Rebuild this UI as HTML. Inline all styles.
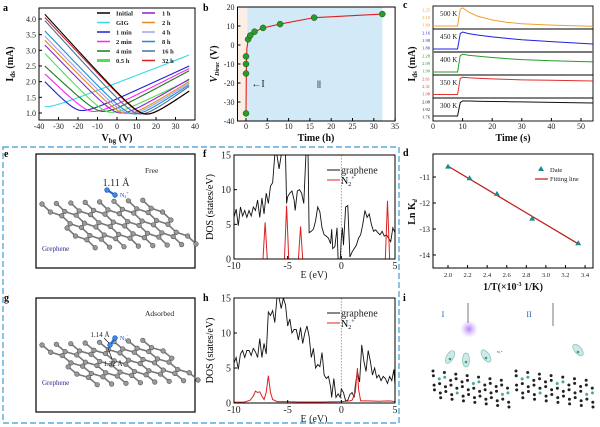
<!DOCTYPE html>
<html><head><meta charset="utf-8">
<style>
html,body{margin:0;padding:0;background:#fff;width:600px;height:427px;overflow:hidden}
svg{display:block;font-family:"Liberation Serif",serif}
.tk{font-size:8px;fill:#222}
.lb{font-size:10px;font-weight:bold;fill:#111}
.pl{font-size:10px;font-weight:bold;fill:#000}
</style></head><body>
<svg id="fig" width="600" height="427" viewBox="0 0 600 427" xmlns="http://www.w3.org/2000/svg">
<rect width="600" height="427" fill="#fff"/>
<rect x="3" y="147" width="396" height="276" fill="none" stroke="#3b9bd6" stroke-width="1.2" stroke-dasharray="6,3"/>
<g id="root"></g>
</svg>
<script>
// ---------- Panel a data ----------
const aLabels=["Initial","GIG","1 min","2 min","4 min","0.5 h","1 h","2 h","4 h","8 h","16 h","32 h"];
const aColors=["#000","#33dde0","#2020d0","#ff22ff","#1a7a1a","#55dd55","#9020d0","#e08a20","#a0a0ee","#1e90c8","#4a6fa0","#e02020"];
const aLeft=[4.15,1.2,2.0,2.25,2.5,2.9,3.17,3.32,3.45,3.62,3.95,4.05];
const aDirac=[15,-37,-18,-12,-7,-3,2,5,7,9,12,15];
const aMin=[0.97,1.2,1.08,1.05,1.05,1.02,1.0,0.98,0.98,0.97,0.97,0.96];
const aRight=[1.7,2.85,2.5,2.42,2.35,2.05,2.08,2.0,1.95,1.9,1.85,1.7];
const aXTicks=[-40,-30,-20,-10,0,10,20,30,40];
const aYTicks=[1.0,1.5,2.0,2.5,3.0,3.5,4.0];
// ---------- Panel b data ----------
const bTime=[0,0,0,0,0.5,1,2,4,8,16,32];
const bV=[-36,-15,-10,-6,3,5,7,9,11,14.4,16.3];
const bXTicks=[0,5,10,15,20,25,30,35];
const bYTicks=[-40,-30,-20,-10,0,10,20];
// ---------- Panel c data ----------
const cTemps=["500 K","450 K","400 K","350 K","300 K"];
const cColors=["#f0a030","#2020e0","#2a9a2a","#e03030","#111"];
const cTickLabels=[["2.25","2.10","1.80"],["2.16","1.98","1.80"],["2.28","2.09","1.90"],["2.61","2.31","1.98"],["2.08","1.92","1.76"]];
const cTime=[0,8.3,9.2,10,12,15,20,25,30,40,55];
const c500=[0.13,0.13,0.86,0.92,0.74,0.56,0.39,0.29,0.23,0.17,0.12];
const c450=[0.13,0.13,0.80,0.87,0.80,0.74,0.66,0.59,0.53,0.45,0.35];
const c400=[0.13,0.13,0.84,0.90,0.86,0.82,0.76,0.71,0.67,0.62,0.57];
const c350=[0.15,0.15,0.85,0.90,0.88,0.86,0.83,0.81,0.79,0.77,0.74];
const c300=[0.22,0.22,0.80,0.87,0.87,0.86,0.85,0.84,0.83,0.81,0.78];
const cXTicks=[0,10,20,30,40,50];
// ---------- Panel d data ----------
const dX=[2.0,2.22,2.5,2.86,3.33];
const dY=[-10.6,-11.05,-11.65,-12.6,-13.55];
const dFit=[[2.0,-10.58],[3.33,-13.57]];
const dXTicks=[2.0,2.2,2.4,2.6,2.8,3.0,3.2,3.4];
const dYTicks=[-11,-12,-13,-14];
// ---------- Panel f data ----------
const fE=[-10,-9.8,-9.6,-9.4,-9.2,-9,-8.8,-8.6,-8.4,-8.2,-8,-7.8,-7.6,-7.4,-7.2,-7,-6.8,-6.6,-6.4,-6.2,-6,-5.8,-5.6,-5.4,-5.2,-5.1,-5,-4.8,-4.6,-4.4,-4.3,-4.1,-3.9,-3.7,-3.5,-3.3,-3.1,-3,-2.8,-2.6,-2.4,-2.2,-2,-1.8,-1.6,-1.4,-1.2,-1,-0.9,-0.8,-0.6,-0.4,-0.3,-0.1,0,0.1,0.2,0.4,0.6,0.8,1,1.2,1.4,1.6,1.8,2,2.2,2.4,2.6,2.8,3,3.2,3.4,3.6,3.8,4,4.2,4.4,4.6,4.8,5];
const fG=[6,7.2,4.8,7.5,6.2,7,6,7,6.2,7.5,7,8.5,6,8.8,6.5,9.5,8,10.5,11,15,15,13,15,15,15,8,9,9.5,9.8,8.5,7,9.8,10,9.5,8,15,15,3.8,4,4.3,5.5,7.5,6.8,4.5,3.5,3.3,3,2.2,4.3,1.5,1.8,4.5,0,0,3,4.5,2,7.5,7.7,0.3,1,1.5,2,3,3.5,5,7,6,6.5,5,4,4.2,3.8,3.5,4,3.3,3.5,3,2.5,4.5,3.8];
const fNE=[-10,-7.3,-7.1,-6.9,-5.3,-5.1,-4.9,-4.0,-3.8,-3.6,4.1,4.3,4.5,5];
const fN=[0,0,5.3,0,0,7.7,0,0,4.7,0,0,8.4,0,0];
// ---------- Panel h data ----------
const hE=[-10,-9.8,-9.6,-9.4,-9.2,-9,-8.8,-8.6,-8.4,-8.2,-8,-7.8,-7.6,-7.4,-7.2,-7,-6.8,-6.6,-6.4,-6.2,-6,-5.8,-5.6,-5.4,-5.2,-5,-4.8,-4.6,-4.4,-4.2,-4,-3.8,-3.6,-3.4,-3.2,-3,-2.8,-2.6,-2.4,-2.2,-2,-1.8,-1.6,-1.4,-1.2,-1,-0.9,-0.7,-0.5,-0.3,-0.1,0,0.2,0.4,0.6,0.8,1,1.2,1.3,1.5,1.7,1.9,2.1,2.3,2.5,2.7,2.9,3.1,3.3,3.5,3.7,3.9,4.1,4.3,4.5,4.7,4.9,5];
const hG=[5.7,6.5,4.8,7,7.5,6.5,7.5,7.5,6.8,7.8,7.3,6.5,9.2,6.5,8.5,7,13,12.5,13.2,11.5,15,15,13.5,15,14,11,12,10,10.5,10.5,9,10.8,8.5,10,11,9.5,6.5,7.8,5,5.5,5.2,7.2,4,3.5,3.8,2.3,0.8,3.5,0.8,1.3,0.8,2,1.5,0.3,0.4,1.2,1.5,0.8,2.5,4.5,3,8.3,6,4.5,7.5,6,4,5,3.6,4,3.2,3.8,3.5,2.8,3.8,3.2,4.8,2.5];
const hNE=[-10,-9,-8.5,-8.2,-8,-7.8,-7.6,-7.4,-7.2,-7,-6.8,-6.6,-6.4,-6,-5,-4,-2,0,0.8,1,1.3,1.5,1.6,1.8,2.5,3.5,4.5,5];
const hN=[0.1,0.15,0.4,1,1.7,1.5,1.6,1,0.5,1.5,3.9,1.5,0.5,0.2,0.2,0.15,0.15,0.2,0.3,0.4,1.5,5,2,0.3,0.3,0.25,0.3,0.2];
const dosXTicks=[-10,-5,0,5];
const dosYTicks=[0,5,10,15];

const NS="http://www.w3.org/2000/svg";
const root=document.getElementById('root');
function mk(tag,attrs,parent,txt){const e=document.createElementNS(NS,tag);for(const k in attrs)e.setAttribute(k,attrs[k]);if(txt!==undefined)e.textContent=txt;(parent||root).appendChild(e);return e;}
function grp(name){const g=document.createElementNS(NS,'g');


root.appendChild(g);return g;}
function poly(pts){return pts.map((p,i)=>(i?'L':'M')+p[0].toFixed(2)+' '+p[1].toFixed(2)).join(' ');}
function txt(g,x,y,s,cls,anchor,extra){const t=mk('text',Object.assign({x:x,y:y,'class':cls||'tk','text-anchor':anchor||'middle'},extra||{}),g,s);return t;}

// panel letters
const letters=[["a",3,11],["b",203,11],["c",403,8],["e",4,157],["f",203,157],["d",403,156],["g",4,301],["h",203,301],["i",403,301]];
letters.forEach(l=>{const t=mk('text',{x:l[1],y:l[2],'class':'pl'},root,l[0]);

});

// ===== Panel a =====
(function(){
const g=grp('panel-a-transfer-curves');
const X=v=>39+(v+40)*156/80, Y=v=>113-(v-1)*31.33;
mk('rect',{x:39,y:8,width:156,height:112,fill:'none',stroke:'#000','stroke-width':1},g);
aXTicks.forEach(v=>{mk('line',{x1:X(v),x2:X(v),y1:120,y2:117,stroke:'#000'},g);txt(g,X(v),129,v);});
aYTicks.forEach(v=>{mk('line',{x1:39,x2:42,y1:Y(v),y2:Y(v),stroke:'#000'},g);txt(g,36,Y(v)+3,v.toFixed(1),'tk','end');});
const order=[1,2,3,4,5,6,7,8,9,10,11,0];
order.forEach(i=>{
 const c=6,L=aLeft[i],R=aRight[i],m=aMin[i],d=aDirac[i];
 const f=V=>Math.sqrt((V-d)*(V-d)+c*c)-c;
 const kL=d>-37?(L-m)/f(-37):0,kR=(R-m)/f(37);
 const pts=[];for(let V=-37;V<=37.01;V+=0.5){pts.push([X(V),Y(m+(V<d?kL:kR)*f(V))]);}
 const p=mk('path',{d:poly(pts),fill:'none',stroke:aColors[i],'stroke-width':1.1},g);
 
 
});
aLabels.forEach((s,i)=>{const col=i<6?0:1,row=i%6;const x0=col?142:97,y0=13+row*9.5;
 mk('line',{x1:x0,x2:x0+13,y1:y0,y2:y0,stroke:aColors[i],'stroke-width':i==5?3:1.5},g);
 const t=txt(g,x0+(col?20:19),y0+2.5,s,'tk','start',{style:'font-size:6.5px;font-weight:bold'});
 
 });
const yl=mk('text',{x:0,y:0,'class':'lb',transform:'translate(13,64) rotate(-90)','text-anchor':'middle'},g);
yl.innerHTML='I<tspan font-size="7" dy="2">ds</tspan><tspan dy="-2"> (mA)</tspan>';
const xl=mk('text',{x:117,y:141,'class':'lb','text-anchor':'middle'},g);
xl.innerHTML='V<tspan font-size="7" dy="2">bg</tspan><tspan dy="-2"> (V)</tspan>';
})();

// ===== Panel b =====
(function(){
const g=grp('panel-b-dirac-shift');
const X=t=>246+t*4.26, Y=v=>7+(20-v)*1.9;
mk('rect',{x:X(-2),y:7,width:X(0.3)-X(-2),height:114,fill:'#fbeee4'},g);
mk('rect',{x:X(0.3),y:7,width:X(32)-X(0.3),height:114,fill:'#d2eaf7'},g);
mk('rect',{x:X(-2),y:7,width:X(35)-X(-2),height:114,fill:'none',stroke:'#000'},g);
bXTicks.forEach(v=>{mk('line',{x1:X(v),x2:X(v),y1:121,y2:118,stroke:'#000'},g);txt(g,X(v),129,v);});
bYTicks.forEach(v=>{mk('line',{x1:X(-2),x2:X(-2)+3,y1:Y(v),y2:Y(v),stroke:'#000'},g);txt(g,X(-2)-3,Y(v)+3,v,'tk','end');});
const pts=[[X(0),Y(-36)],[X(0.1),Y(-10)],[X(0.2),Y(-2)]];
for(let i=4;i<bTime.length;i++)pts.push([X(bTime[i]),Y(bV[i])]);
mk('path',{d:poly(pts),fill:'none',stroke:'#e02020','stroke-width':1.1},g);
bTime.forEach((t,i)=>{const c=mk('circle',{cx:X(t),cy:Y(bV[i]),r:3,fill:'#2a9a2a',stroke:'#145014','stroke-width':0.5},g);
 
 });
txt(g,258,87,'←I','tk','middle',{style:'font-size:10px'});
txt(g,319,88,'Ⅱ','tk','middle',{style:'font-size:10px;fill:#555'});
const yl=mk('text',{x:0,y:0,'class':'lb',transform:'translate(217,64) rotate(-90)','text-anchor':'middle','font-style':'italic'},g);
yl.innerHTML='V<tspan font-size="6" dy="2">Dirac</tspan><tspan dy="-2" font-style="normal"> (V)</tspan>';
txt(g,316,141,'Time (h)','lb');
})();

// ===== Panel c =====
(function(){
const g=grp('panel-c-current-response');
const X=t=>433+t*2.96;
const series=[c500,c450,c400,c350,c300];
cTemps.forEach((s,k)=>{const top=6+k*23,bot=top+23;const Y=f=>bot-f*23;
 mk('rect',{x:433,y:top,width:160,height:23,fill:'none',stroke:'#000','stroke-width':0.9},g);
 cTickLabels[k].forEach((l,j)=>{const yy=top+4+j*7.5;txt(g,430,yy+1.5,l,'tk','end',{style:'font-size:4.5px;fill:'+cColors[k]});});
 const pts=[];
 for(let i=0;i<cTime.length;i++){const t=Math.min(cTime[i],54);pts.push([X(t),Y(series[k][i])]);}
 const p=mk('path',{d:poly(pts),fill:'none',stroke:cColors[k],'stroke-width':1},g);
 
 
 txt(g,440,top+10,s,'tk','start',{style:'font-size:7px'});
});
mk('line',{x1:433,x2:593,y1:52,y2:52,stroke:'#777','stroke-width':2},g);
cXTicks.forEach(v=>{mk('line',{x1:X(v),x2:X(v),y1:121,y2:118,stroke:'#000'},g);txt(g,X(v),129,v);});
const yl=mk('text',{x:0,y:0,'class':'lb',transform:'translate(415,64) rotate(-90)','text-anchor':'middle'},g);
yl.innerHTML='I<tspan font-size="7" dy="2">ds</tspan><tspan dy="-2"> (mA)</tspan>';
txt(g,513,141,'Time (s)','lb');
})();

// ===== Panel d =====
(function(){
const g=grp('panel-d-arrhenius');
const X=v=>448+(v-2)*97.9, Y=v=>177+(-11-v)*26;
mk('rect',{x:433,y:154,width:160,height:114,fill:'none',stroke:'#000'},g);
dXTicks.forEach(v=>{mk('line',{x1:X(v),x2:X(v),y1:268,y2:265,stroke:'#000'},g);txt(g,X(v),277,v.toFixed(1),'tk','middle',{style:'font-size:6.5px'});});
dYTicks.forEach(v=>{mk('line',{x1:433,x2:436,y1:Y(v),y2:Y(v),stroke:'#000'},g);txt(g,430,Y(v)+3,v,'tk','end');});
mk('path',{d:poly(dFit.map(p=>[X(p[0]),Y(p[1])])),stroke:'#c01818','stroke-width':1.2,fill:'none'},g);
dX.forEach((v,i)=>{const x=X(v),y=Y(dY[i]);const t=mk('path',{d:`M${x} ${y-3} L${x+3} ${y+2} L${x-3} ${y+2}Z`,fill:'#1a8a8a'},g);
 
 });
mk('path',{d:'M541 166 L544 171 L538 171Z',fill:'#1a8a8a'},g);
txt(g,550,172,'Date','tk','start',{style:'font-size:6.5px'});
mk('line',{x1:535,x2:548,y1:179,y2:179,stroke:'#c01818','stroke-width':1.2},g);
txt(g,550,181,'Fitting line','tk','start',{style:'font-size:6.5px'});
const yl=mk('text',{x:0,y:0,'class':'lb',transform:'translate(415,212) rotate(-90)','text-anchor':'middle'},g);
yl.innerHTML='Ln K<tspan font-size="6" dy="2" font-style="italic">d</tspan>';
const xl=mk('text',{x:513,y:290,'class':'lb','text-anchor':'middle'},g);
xl.innerHTML='1/T(×10<tspan font-size="6" dy="-4">-3</tspan><tspan dy="4"> 1/K)</tspan>';
})();

// ===== DOS panels =====
function dos(name,top,bot,gE,gV,nE,nV,nlabel){
const g=grp(name);
const X=e=>234+(e+10)*161/15, Y=v=>bot-v*(bot-top)/15;
const clip='clip-'+name;
const cp=mk('clipPath',{id:clip},g);mk('rect',{x:234,y:top,width:161,height:bot-top},cp);
mk('line',{x1:X(0),x2:X(0),y1:top,y2:bot,stroke:'#888','stroke-dasharray':'1.5,1.5','stroke-width':0.8},g);
const gp=mk('path',{d:poly(gE.map((e,i)=>[X(e),Y(gV[i])])),fill:'none',stroke:'#111','stroke-width':0.9,'clip-path':`url(#${clip})`},g);


const np=mk('path',{d:poly(nE.map((e,i)=>[X(e),Y(nV[i])])),fill:'none',stroke:'#e02020','stroke-width':1,'clip-path':`url(#${clip})`},g);


mk('rect',{x:234,y:top,width:161,height:bot-top,fill:'none',stroke:'#000'},g);
dosXTicks.forEach(v=>{mk('line',{x1:X(v),x2:X(v),y1:bot,y2:bot-3,stroke:'#000'},g);txt(g,X(v),bot+10,v,'tk','middle',{style:'font-size:10px'});});
dosYTicks.forEach(v=>{mk('line',{x1:234,x2:237,y1:Y(v),y2:Y(v),stroke:'#000'},g);txt(g,231,Y(v)+3.5,v,'tk','end',{style:'font-size:10px'});});
mk('text',{x:0,y:0,transform:`translate(213,${(top+bot)/2}) rotate(-90)`,'text-anchor':'middle',style:'font-size:10px'},g,'DOS (states/eV)');
txt(g,314,bot+19,'E (eV)','tk','middle',{style:'font-size:10px'});
const ly=top+15;
mk('line',{x1:327,x2:340,y1:ly,y2:ly,stroke:'#111'},g);
txt(g,341,ly+3.5,'graphene','tk','start',{style:'font-size:10px'});
mk('line',{x1:327,x2:340,y1:ly+10,y2:ly+10,stroke:'#e02020'},g);
const t=mk('text',{x:341,y:ly+14,style:'font-size:10px'},g);t.innerHTML='N<tspan font-size="6" dy="2">2</tspan><tspan font-size="6" dy="-6">'+nlabel+'</tspan>';
}
dos('panel-f-dos-free',155,259,fE,fG,fNE,fN,'+');
dos('panel-h-dos-adsorbed',298,403,hE,hG,hNE,hN,'+');

// ===== Graphene structures =====
function lattice(g,O,A,B,cols,rows,r,fill,stroke,bond){
 const pts=[];const s3=Math.sqrt(3);
 for(let j=0;j<rows;j++)for(let i=0;i<cols;i++){const bx=i*s3+(j%2)*s3/2,by=j*1.5;pts.push([bx,by]);pts.push([bx,by+1]);}
 const W=(cols-0.5)*s3, H=(rows-1)*1.5+1;
 const map=p=>[O[0]+p[0]/W*A[0]+p[1]/H*B[0],O[1]+p[0]/W*A[1]+p[1]/H*B[1]];
 const uniq=[];pts.forEach(p=>{if(!uniq.some(q=>Math.abs(q[0]-p[0])<0.01&&Math.abs(q[1]-p[1])<0.01))uniq.push(p);});
 if(bond){for(let a=0;a<uniq.length;a++)for(let b=a+1;b<uniq.length;b++){const dx=uniq[a][0]-uniq[b][0],dy=uniq[a][1]-uniq[b][1];if(Math.abs(Math.hypot(dx,dy)-1)<0.05){const p=map(uniq[a]),q=map(uniq[b]);mk('line',{x1:p[0],y1:p[1],x2:q[0],y2:q[1],stroke:bond,'stroke-width':1.6},g);}}}
 uniq.forEach((p,k)=>{const m=map(p);mk('circle',{cx:m[0],cy:m[1],r:r,fill:(typeof fill==='function')?fill(k):fill,stroke:stroke,'stroke-width':0.6},g);});
}
(function(){
const g=grp('panel-e-free-structure');
mk('rect',{x:36,y:154,width:159,height:114,fill:'#fff',stroke:'#000','stroke-width':1.2},g);
lattice(g,[42,204],[108,-4],[46,44],8,4,2.3,'#999','#555','#777');
mk('line',{x1:107,y1:190,x2:115,y2:195,stroke:'#1a6adf','stroke-width':2},g);
mk('circle',{cx:107,cy:190,r:2.3,fill:'#3a8cf0',stroke:'#1040a0','stroke-width':0.6},g);
mk('circle',{cx:115,cy:195,r:2.3,fill:'#3a8cf0',stroke:'#1040a0','stroke-width':0.6},g);
txt(g,116,186,'1.11 Å','tk','middle',{style:'font-size:10px'});
const n=mk('text',{x:120,y:197,style:'font-size:6px;fill:#2040c0'},g);n.innerHTML='N<tspan font-size="4" dy="1">2</tspan><tspan font-size="4" dy="-4">+</tspan>';
txt(g,145,173,'Free','tk','start',{style:'font-size:7.5px'});
txt(g,42,251,'Grephene','tk','start',{style:'font-size:7px;fill:#2a2a8a'});
})();
(function(){
const g=grp('panel-g-adsorbed-structure');
mk('rect',{x:36,y:298,width:159,height:114,fill:'#fff',stroke:'#000','stroke-width':1.2},g);
lattice(g,[42,345],[108,-5],[48,40],8,4,2.3,'#999','#555','#777');
mk('line',{x1:110,y1:345,x2:115,y2:338,stroke:'#1a6adf','stroke-width':2},g);
mk('circle',{cx:110,cy:345,r:2.3,fill:'#3a8cf0',stroke:'#1040a0','stroke-width':0.6},g);
mk('circle',{cx:115,cy:338,r:2.3,fill:'#3a8cf0',stroke:'#1040a0','stroke-width':0.6},g);
txt(g,100,337,'1.14 Å','tk','middle',{style:'font-size:7px'});
mk('line',{x1:104,y1:338,x2:109,y2:343,stroke:'#000','stroke-width':0.6},g);
txt(g,113,366,'1.32 Å','tk','middle',{style:'font-size:7px'});
mk('line',{x1:108,y1:348,x2:112,y2:359,stroke:'#000','stroke-width':0.6},g);
const n=mk('text',{x:120,y:340,style:'font-size:6px;fill:#2040c0'},g);n.innerHTML='N<tspan font-size="4" dy="1">2</tspan><tspan font-size="4" dy="-4">−</tspan>';
txt(g,145,316,'Adsorbed','tk','start',{style:'font-size:7.5px'});
txt(g,42,385,'Grephene','tk','start',{style:'font-size:7px;fill:#2a2a8a'});
})();

// ===== Panel i =====
(function(){
const g=grp('panel-i-schematic');
const defs=mk('defs',{},g);const rg=mk('radialGradient',{id:'glow'},defs);
mk('stop',{offset:'0','stop-color':'#b070f0','stop-opacity':'0.9'},rg);mk('stop',{offset:'1','stop-color':'#d0b0ff','stop-opacity':'0'},rg);
txt(g,443,317,'I','tk','middle',{style:'font-size:8px;fill:#2060b0'});
txt(g,529,317,'II','tk','middle',{style:'font-size:8px;fill:#2060b0'});
mk('line',{x1:468,x2:468,y1:303,y2:323,stroke:'#555','stroke-width':0.8},g);
mk('line',{x1:553,x2:553,y1:303,y2:326,stroke:'#555','stroke-width':0.8},g);
mk('circle',{cx:469,cy:329,r:9,fill:'url(#glow)'},g);
[[450,357,30],[466,360,0],[486,356,-35],[578,350,-40]].forEach(d=>{
 mk('ellipse',{cx:d[0],cy:d[1],rx:3.5,ry:7,fill:'#cfe9e6',stroke:'#7cc0bb','stroke-width':0.7,transform:`rotate(${d[2]} ${d[0]} ${d[1]})`},g);
 mk('circle',{cx:d[0],cy:d[1]+2,r:1.3,fill:'#3a9a90'},g);});
txt(g,497,353,'N₂⁺','tk','start',{style:'font-size:3.5px'});
const tealIdx=[3,9,14,20,27,33,40];
lattice(g,[433,371],[74,10],[2,26],7,4,1.5,k=>tealIdx.includes(k)?'#4aa8a0':'#222','none',null);
lattice(g,[516,371],[76,10],[1,26],7,4,1.5,k=>tealIdx.includes(k)?'#4aa8a0':'#222','none',null);
})();
</script>
</body></html>
